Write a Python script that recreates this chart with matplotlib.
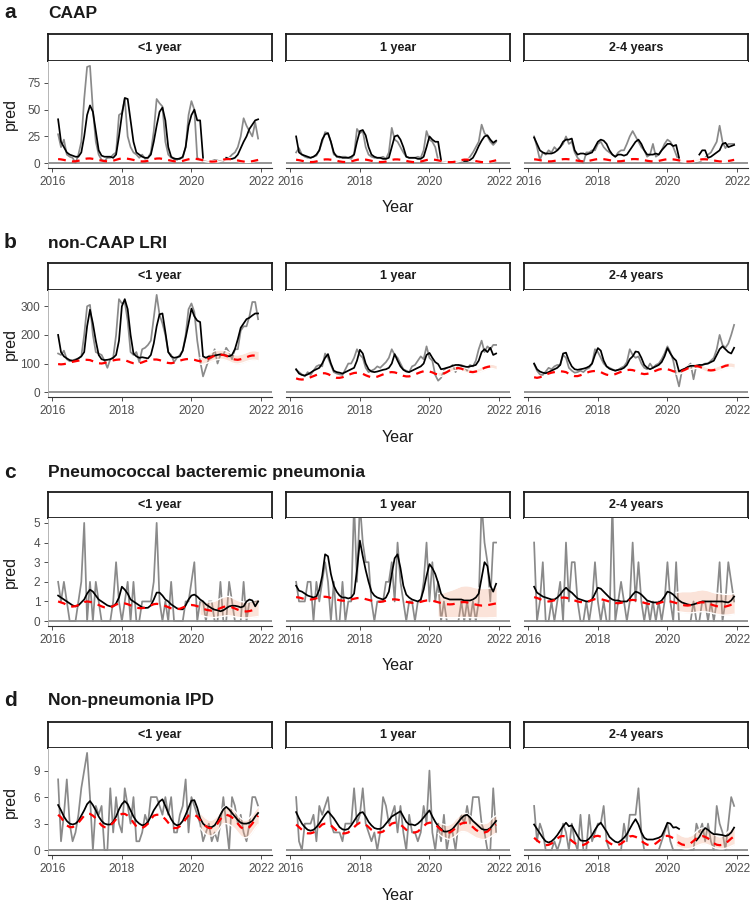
import numpy as np
import pandas as pd
import matplotlib
matplotlib.use("Agg")
import matplotlib.pyplot as plt

plt.rcParams['font.family'] = ['Liberation Sans', 'DejaVu Sans']

nan = np.nan
months = pd.date_range('2016-03-01', '2021-12-01', freq='MS')
t = np.asarray(months.year + (months.month - 1) / 12.0, dtype=float)
RIB0 = 49  # ribbon (counterfactual) starts Apr 2020

row_titles = ['CAAP', 'non-CAAP LRI', 'Pneumococcal bacteremic pneumonia', 'Non-pneumonia IPD']
row_letters = ['a', 'b', 'c', 'd']
age_groups = ['<1 year', '1 year', '2-4 years']
x_ticks = [2016, 2018, 2020, 2022]
y_ticks = [[0, 25, 50, 75], [0, 100, 200, 300], [0, 1, 2, 3, 4, 5], [0, 3, 6, 9]]

# ---------------- a: CAAP ----------------
a1_obs = [27, 15, 22, 8, 6, 5, 0, 8, 20, 60, 90, 91,
          50, 20, 8, 3, 2, 5, 5, 8, 10, 45, 47, 60,
          25, 15, 10, 8, 5, 8, 4, 5, 10, 30, 60, 56,
          53, 20, 8, 5, 5, 3, 5, 5, 15, 45, 58, 50,
          5, 3, 2, 2, 2, 2, 3, 3, 2, 2, 5, 5,
          8, 10, 15, 25, 42, 35, 30, 25, 38, 23]
a1_fit = [41, 20, 15, 10, 8, 7, 6, 6, 10, 25, 45, 54,
          48, 30, 12, 7, 6, 6, 6, 5, 8, 25, 45, 61,
          60, 40, 20, 10, 8, 6, 5, 5, 8, 20, 35, 48,
          52, 40, 15, 6, 4, 4, 4, 6, 15, 35, 45, 50,
          40, 40, 5, nan, nan, nan, nan, nan, nan, nan, 5, 4,
          4, 5, 8, 14, 20, 25, 32, 36, 40, 41]
a1_base = [3.8, 3.5, 3.0, 2.4, 1.9, 1.6, 1.7, 2.2, 3.0, 3.8, 4.3, 4.4,
           4.0, 3.6, 3.0, 2.4, 1.9, 1.7, 1.8, 2.3, 3.1, 3.9, 4.4, 4.5,
           4.1, 3.6, 3.0, 2.3, 1.8, 1.6, 1.7, 2.2, 3.0, 3.8, 4.3, 4.4,
           4.0, 3.5, 2.9, 2.3, 1.8, 1.5, 1.6, 2.1, 2.9, 3.6, 4.1, 4.2,
           3.8, 3.3, 2.7, 2.1, 1.6, 1.4, 1.5, 1.9, 2.6, 3.3, 3.7, 3.8,
           3.4, 3.0, 2.5, 1.9, 1.5, 1.3, 1.4, 1.8, 2.4, 3.0]
a1_lo = [2.3, 1.8, 1.3, 0.9, 0.8, 0.8, 1.1, 1.7, 2.3, 2.6, 2.7, 2.4, 2.0, 1.6, 1.1, 0.8, 0.7, 0.8, 1.1, 1.6, 2.1]
a1_hi = [4.5, 3.8, 3.0, 2.4, 2.1, 2.3, 2.8, 3.6, 4.5, 5.0, 5.1, 4.6, 4.1, 3.5, 2.8, 2.3, 2.0, 2.1, 2.6, 3.3, 4.0]

a2_obs = [10, 14, 8, 6, 5, 5, 6, 7, 12, 20, 29, 28,
          20, 8, 7, 5, 6, 6, 5, 4, 8, 32, 28, 30,
          15, 8, 6, 5, 5, 5, 6, 4, 10, 33, 22, 20,
          15, 10, 6, 5, 5, 5, 6, 5, 12, 30, 22, 20,
          15, 3, 2, 2, 1, 1, 1, 1, 1, 1, 2, 3,
          6, 10, 15, 20, 36, 28, 25, 20, 17, 20]
a2_fit = [25, 10, 8, 7, 6, 5, 6, 8, 12, 22, 27, 28,
          20, 10, 6, 6, 5, 5, 5, 6, 8, 20, 30, 31,
          26, 15, 8, 6, 5, 5, 4, 4, 5, 15, 25, 26,
          22, 15, 6, 5, 5, 5, 4, 4, 6, 15, 25, 22,
          20, 20, 3, nan, nan, nan, nan, nan, nan, nan, 2, 2,
          3, 5, 10, 16, 21, 25, 26, 22, 19, 21]
a2_base = [3.2, 2.8, 2.2, 1.6, 1.2, 1.0, 1.1, 1.6, 2.3, 3.0, 3.5, 3.5,
           3.2, 2.8, 2.2, 1.6, 1.2, 1.0, 1.1, 1.6, 2.4, 3.1, 3.6, 3.6,
           3.3, 2.8, 2.2, 1.6, 1.2, 1.0, 1.1, 1.5, 2.3, 3.0, 3.5, 3.5,
           3.2, 2.7, 2.1, 1.5, 1.1, 0.9, 1.0, 1.5, 2.2, 2.9, 3.4, 3.4,
           3.1, 2.6, 2.0, 1.5, 1.1, 0.9, 1.0, 1.4, 2.1, 2.8, 3.3, 3.3,
           3.0, 2.5, 1.9, 1.4, 1.0, 0.9, 1.0, 1.4, 2.0, 2.7]
a2_lo = [1.8, 1.3, 0.9, 0.6, 0.5, 0.5, 0.8, 1.4, 2.0, 2.4, 2.4, 2.1, 1.7, 1.2, 0.8, 0.5, 0.4, 0.5, 0.8, 1.3, 1.8]
a2_hi = [3.8, 3.0, 2.4, 1.9, 1.6, 1.8, 2.3, 3.1, 4.0, 4.6, 4.6, 4.2, 3.6, 2.9, 2.3, 1.8, 1.6, 1.8, 2.3, 3.0, 3.9]

a3_obs = [25, 15, 3, 10, 8, 12, 10, 15, 12, 15, 18, 25,
          18, 20, 10, 5, 2, 0, 10, 10, 12, 12, 18, 20,
          15, 12, 10, 8, 6, 10, 12, 12, 18, 25, 30, 25,
          20, 15, 12, 6, 8, 18, 6, 8, 12, 18, 22, 20,
          15, 8, 1, 0, 0, 0, 0, 0, 0, 1, 3, 5,
          8, 10, 15, 20, 35, 20, 14, 18, 18, 18]
a3_fit = [24, 18, 12, 10, 9, 9, 9, 10, 12, 15, 20, 22,
          22, 23, 12, 8, 9, 9, 8, 9, 10, 15, 20, 22,
          21, 18, 12, 8, 6, 8, 8, 7, 8, 12, 16, 20,
          22, 18, 12, 8, 8, 8, 9, 8, 12, 15, 18, 18,
          16, 17, 5, nan, nan, nan, nan, nan, nan, 8, 12, 12,
          5, 6, 8, 10, 12, 18, 19, 15, 16, 17]
a3_base = [3.6, 3.3, 2.8, 2.2, 1.8, 1.6, 1.7, 2.1, 2.7, 3.3, 3.7, 3.8,
           3.6, 3.3, 2.8, 2.3, 1.9, 1.7, 1.8, 2.2, 2.8, 3.4, 3.8, 3.9,
           3.7, 3.3, 2.8, 2.3, 1.9, 1.7, 1.8, 2.2, 2.8, 3.4, 3.8, 3.8,
           3.6, 3.2, 2.7, 2.2, 1.8, 1.6, 1.7, 2.1, 2.7, 3.3, 3.7, 3.7,
           3.5, 3.1, 2.6, 2.1, 1.7, 1.5, 1.6, 2.0, 2.6, 3.2, 3.6, 3.6,
           3.4, 3.0, 2.5, 2.0, 1.6, 1.5, 1.6, 2.0, 2.5, 3.1]
a3_lo = [2.2, 1.8, 1.4, 1.1, 0.9, 1.0, 1.3, 1.8, 2.3, 2.6, 2.6, 2.4, 2.1, 1.7, 1.3, 1.0, 0.9, 1.0, 1.3, 1.7, 2.2]
a3_hi = [4.3, 3.7, 3.1, 2.6, 2.3, 2.4, 2.9, 3.6, 4.4, 4.9, 4.9, 4.6, 4.1, 3.5, 2.9, 2.4, 2.2, 2.4, 2.9, 3.5, 4.2]

# ---------------- b: non-CAAP LRI ----------------
b1_obs = [135, 130, 145, 115, 108, 110, 115, 118, 125, 200, 300, 305,
          200, 140, 135, 130, 110, 85, 115, 120, 200, 325, 310, 315,
          250, 140, 130, 140, 105, 150, 155, 165, 180, 260, 340, 270,
          240, 200, 140, 130, 105, 120, 130, 145, 200, 290, 310, 280,
          180, 110, 55, 85, 115, 120, 150, 100, 130, 130, 155, 140,
          115, 150, 150, 215, 230, 230, 265, 315, 315, 255]
b1_fit = [200, 140, 125, 118, 112, 110, 112, 118, 125, 140, 230, 288,
          240, 180, 130, 115, 112, 113, 115, 120, 130, 180, 300, 325,
          290, 200, 135, 125, 120, 122, 120, 118, 130, 170, 230, 272,
          275, 210, 140, 125, 120, 122, 125, 145, 190, 240, 292, 265,
          250, 245, 125, 120, 125, 125, 128, 130, 132, 130, 128, 125,
          130, 150, 185, 225, 240, 255, 260, 268, 275, 275]
b1_base = [98, 97, 98, 100, 103, 106, 108, 110, 112, 113, 113, 112,
           108, 104, 101, 100, 102, 105, 108, 111, 113, 114, 114, 112,
           108, 104, 101, 100, 101, 104, 108, 111, 113, 114, 114, 112,
           108, 104, 102, 101, 103, 106, 110, 113, 115, 116, 115, 113,
           110, 108, 108, 112, 118, 123, 127, 130, 131, 130, 127, 122,
           117, 114, 113, 115, 118, 122, 126, 128, 128, 126]
b1_lo = [98, 97, 100, 104, 108, 111, 114, 115, 114, 111, 107, 102, 99, 98, 100, 103, 107, 110, 112, 112, 110]
b1_hi = [120, 122, 128, 135, 140, 144, 147, 148, 147, 144, 139, 134, 131, 130, 132, 135, 139, 143, 145, 145, 143]

b2_obs = [78, 70, 62, 55, 70, 60, 75, 90, 95, 90, 135, 120,
          95, 70, 65, 62, 60, 80, 100, 100, 120, 150, 130, 120,
          85, 70, 75, 80, 90, 85, 95, 105, 120, 150, 130, 120,
          100, 80, 75, 70, 90, 95, 110, 125, 115, 160, 120, 110,
          60, 40, 50, 75, 85, 85, 95, 70, 95, 95, 90, 75,
          95, 90, 110, 150, 180, 140, 160, 150, 165, 165]
b2_fit = [80, 65, 60, 58, 62, 68, 75, 80, 85, 100, 120, 133,
          100, 75, 70, 68, 65, 70, 75, 80, 85, 110, 148, 135,
          100, 80, 72, 70, 72, 75, 78, 80, 85, 100, 133, 110,
          90, 78, 72, 70, 75, 80, 85, 90, 100, 130, 137, 120,
          105, 98, 80, 82, 85, 88, 92, 95, 95, 92, 90, 88,
          90, 92, 95, 110, 140, 150, 140, 155, 130, 135]
b2_base = [48, 45, 44, 45, 48, 52, 56, 60, 64, 66, 66, 63,
           58, 53, 50, 50, 52, 56, 60, 64, 67, 68, 67, 64,
           59, 55, 52, 52, 54, 58, 62, 66, 69, 70, 69, 66,
           61, 57, 55, 55, 58, 62, 66, 70, 73, 74, 72, 69,
           64, 62, 62, 65, 70, 76, 80, 83, 84, 82, 78, 74,
           71, 70, 72, 76, 80, 85, 88, 90, 89, 86]
b2_lo = [55, 55, 58, 63, 69, 73, 76, 77, 75, 71, 67, 64, 63, 65, 69, 73, 78, 81, 83, 82, 79]
b2_hi = [70, 70, 73, 78, 84, 88, 91, 92, 90, 86, 82, 79, 78, 80, 84, 88, 93, 96, 98, 97, 94]

b3_obs = [98, 75, 62, 60, 72, 85, 80, 90, 95, 95, 130, 120,
          85, 75, 68, 70, 75, 70, 80, 85, 100, 150, 140, 120,
          100, 90, 85, 80, 75, 78, 85, 90, 105, 150, 130, 120,
          125, 100, 85, 80, 100, 85, 95, 100, 115, 135, 160, 140,
          110, 60, 20, 75, 85, 90, 100, 45, 95, 95, 95, 100,
          100, 110, 120, 150, 200, 165, 155, 170, 200, 235]
b3_fit = [100, 80, 72, 68, 66, 70, 75, 80, 85, 95, 135, 138,
          110, 90, 80, 78, 80, 82, 85, 90, 100, 130, 154, 145,
          110, 90, 82, 78, 75, 78, 80, 85, 95, 115, 125, 142,
          140, 120, 95, 85, 80, 85, 90, 95, 105, 125, 154, 135,
          120, 110, 72, 78, 82, 88, 92, 92, 92, 95, 95, 98,
          100, 105, 110, 130, 150, 160, 150, 140, 135, 155]
b3_base = [52, 50, 52, 56, 61, 65, 68, 70, 72, 73, 72, 70,
           64, 59, 56, 56, 59, 63, 67, 71, 73, 74, 73, 70,
           65, 61, 59, 60, 63, 67, 71, 75, 77, 78, 77, 74,
           69, 65, 63, 64, 67, 71, 75, 79, 81, 82, 80, 77,
           73, 71, 71, 74, 78, 83, 87, 90, 91, 89, 85, 80,
           77, 76, 77, 80, 84, 88, 92, 94, 94, 92]
b3_lo = [63, 63, 66, 70, 75, 79, 82, 83, 81, 77, 72, 69, 68, 69, 72, 76, 80, 84, 86, 86, 84]
b3_hi = [80, 80, 83, 87, 92, 96, 99, 100, 98, 94, 89, 86, 85, 86, 89, 93, 97, 101, 103, 103, 101]

# ---------------- c: Pneumococcal bacteremic pneumonia ----------------
c1_obs = [2, 1, 2, 1, 0, 0, 0, 1, 2, 5, 0, 2,
          0, 2, 1, 0, 0, 0, 0, 1, 3, 1, 0, 1,
          2, 0, 2, 0, 0, 1, 1, 1, 1, 2, 5, 1,
          0, 1, 0, 2, 0, 0, 0, 0, 1, 1, 2, 3,
          0, 1, 1, 0, 1, 1, 0, 0, 2, 0, 0, 2,
          1, 0, 0, 0, 2, 0, 1, 1, 1, 1]
c1_fit = [1.3, 1.2, 1.1, 1.0, 0.9, 0.8, 0.75, 0.8, 0.95, 1.1, 1.4, 1.6,
          1.5, 1.3, 1.1, 1.0, 0.9, 0.8, 0.75, 0.75, 0.9, 1.2, 1.75, 1.6,
          1.4, 1.1, 1.0, 0.9, 0.8, 0.7, 0.67, 0.68, 0.8, 1.1, 1.45, 1.45,
          1.3, 1.1, 1.0, 0.85, 0.75, 0.65, 0.6, 0.6, 0.8, 1.1, 1.3, 1.35,
          1.25, 1.1, 1.0, 0.85, 0.75, 0.65, 0.58, 0.55, 0.5, 0.55, 0.65, 0.75,
          0.78, 0.78, 0.75, 0.7, 0.75, 1.0, 1.1, 1.05, 0.75, 1.0]
c1_base = [1.0, 0.95, 0.9, 0.82, 0.76, 0.74, 0.76, 0.82, 0.9, 0.97, 1.0, 0.98,
           0.94, 0.88, 0.82, 0.75, 0.7, 0.68, 0.7, 0.76, 0.84, 0.9, 0.92, 0.9,
           0.86, 0.8, 0.74, 0.68, 0.66, 0.66, 0.68, 0.74, 0.8, 0.86, 0.88, 0.86,
           0.82, 0.77, 0.71, 0.65, 0.62, 0.61, 0.63, 0.69, 0.75, 0.8, 0.82, 0.8,
           0.76, 0.7, 0.64, 0.58, 0.55, 0.53, 0.55, 0.6, 0.66, 0.72, 0.75, 0.74,
           0.7, 0.64, 0.58, 0.53, 0.5, 0.49, 0.51, 0.55, 0.6, 0.62]
c1_lo = [0.3, 0.26, 0.22, 0.2, 0.18, 0.18, 0.2, 0.22, 0.25, 0.27, 0.27, 0.25, 0.22, 0.19, 0.17, 0.16, 0.16, 0.17, 0.19, 0.21, 0.23]
c1_hi = [1.05, 1.0, 0.98, 0.97, 0.98, 1.02, 1.08, 1.15, 1.22, 1.26, 1.25, 1.2, 1.12, 1.05, 1.0, 0.97, 0.96, 0.98, 1.02, 1.08, 1.12]

c2_obs = [2, 1, 1, 1, 2, 2, 0, 2, 1, 2, 3, 2,
          0, 2, 0, 0, 2, 0, 1, 1, 6, 2, 6, 4,
          3, 3, 1, 0, 1, 1, 1, 2, 2, 3, 1, 4,
          2, 1, 0, 1, 1, 0, 1, 1, 2, 4, 1, 3,
          1, 2, 0, 1, 0, 0, 0, 0, 0, 1, 0, 1,
          0, 1, 0, 1, 6, 4, 3, 1, 4, 4]
c2_fit = [1.8, 1.55, 1.5, 1.4, 1.3, 1.25, 1.2, 1.25, 1.6, 2.3, 3.4, 3.3,
          2.4, 1.8, 1.5, 1.3, 1.2, 1.2, 1.15, 1.2, 1.4, 2.6, 4.1, 3.3,
          2.6, 2.0, 1.5, 1.3, 1.2, 1.15, 1.1, 1.2, 1.5, 2.4, 3.2, 3.4,
          2.7, 1.8, 1.35, 1.2, 1.1, 1.05, 1.0, 1.1, 1.6, 2.3, 2.9, 2.7,
          2.4, 1.95, 1.4, 1.2, 1.15, 1.1, 1.1, 1.1, 1.1, 1.1, 1.05, 1.05,
          1.05, 1.1, 1.2, 1.4, 2.2, 3.0, 2.8, 1.8, 1.5, 1.9]
c2_base = [1.22, 1.2, 1.16, 1.12, 1.1, 1.1, 1.12, 1.16, 1.2, 1.23, 1.24, 1.22,
           1.18, 1.14, 1.1, 1.06, 1.04, 1.04, 1.06, 1.1, 1.14, 1.17, 1.18, 1.16,
           1.12, 1.08, 1.04, 1.0, 0.98, 0.98, 1.0, 1.04, 1.08, 1.1, 1.11, 1.09,
           1.06, 1.02, 0.98, 0.95, 0.93, 0.93, 0.95, 0.98, 1.02, 1.05, 1.06, 1.04,
           1.0, 0.96, 0.92, 0.88, 0.86, 0.85, 0.86, 0.89, 0.93, 0.96, 0.97, 0.95,
           0.92, 0.88, 0.84, 0.81, 0.79, 0.79, 0.81, 0.84, 0.87, 0.9]
c2_lo = [0.2, 0.19, 0.18, 0.17, 0.17, 0.17, 0.17, 0.18, 0.18, 0.18, 0.18, 0.18, 0.17, 0.17, 0.16, 0.16, 0.16, 0.16, 0.17, 0.17, 0.18]
c2_hi = [1.4, 1.42, 1.45, 1.5, 1.55, 1.6, 1.66, 1.72, 1.78, 1.8, 1.8, 1.78, 1.74, 1.7, 1.68, 1.66, 1.66, 1.67, 1.68, 1.7, 1.72]

c3_obs = [4, 0, 1, 3, 0, 0, 1, 0, 1, 2, 0, 4,
          1, 3, 3, 1, 0, 0, 1, 0, 1, 3, 1, 0,
          1, 0, 0, 6, 0, 1, 2, 1, 0, 1, 4, 1,
          3, 1, 0, 1, 0, 1, 0, 1, 0, 1, 3, 1,
          0, 3, 0, 0, 0, 0, 0, 1, 0, 0, 1, 1,
          0, 1, 0, 1, 3, 0, 1, 3, 2, 1]
c3_fit = [1.75, 1.45, 1.35, 1.25, 1.2, 1.15, 1.1, 1.1, 1.2, 1.35, 1.55, 1.7,
          1.55, 1.45, 1.3, 1.15, 1.1, 1.05, 1.0, 1.0, 1.1, 1.4, 1.7, 1.65,
          1.5, 1.35, 1.2, 1.1, 1.05, 1.05, 1.0, 1.0, 1.0, 1.15, 1.35, 1.5,
          1.45, 1.35, 1.2, 1.05, 1.0, 0.95, 0.95, 0.95, 1.05, 1.25, 1.5, 1.45,
          1.35, 1.2, 1.05, 0.95, 0.9, 0.85, 0.82, 0.85, 0.9, 0.95, 1.0, 1.0,
          1.0, 1.0, 1.0, 1.0, 1.0, 1.0, 0.97, 0.95, 1.05, 1.25]
c3_base = [1.22, 1.18, 1.12, 1.06, 1.02, 1.0, 1.02, 1.06, 1.12, 1.17, 1.2, 1.19,
           1.15, 1.1, 1.05, 1.0, 0.97, 0.96, 0.98, 1.02, 1.07, 1.12, 1.14, 1.12,
           1.08, 1.04, 0.99, 0.95, 0.92, 0.91, 0.93, 0.97, 1.02, 1.06, 1.08, 1.06,
           1.02, 0.98, 0.93, 0.89, 0.86, 0.85, 0.87, 0.91, 0.96, 1.0, 1.02, 1.0,
           0.96, 0.92, 0.87, 0.83, 0.8, 0.79, 0.81, 0.85, 0.9, 0.94, 0.96, 0.94,
           0.9, 0.85, 0.8, 0.76, 0.73, 0.72, 0.74, 0.78, 0.83, 0.87]
c3_lo = [0.5, 0.47, 0.45, 0.43, 0.42, 0.42, 0.43, 0.45, 0.47, 0.48, 0.47, 0.45, 0.42, 0.38, 0.35, 0.32, 0.3, 0.3, 0.31, 0.33, 0.35]
c3_hi = [1.45, 1.48, 1.5, 1.5, 1.5, 1.5, 1.52, 1.55, 1.58, 1.6, 1.58, 1.55, 1.5, 1.45, 1.42, 1.4, 1.38, 1.36, 1.36, 1.38, 1.4]

# ---------------- d: Non-pneumonia IPD ----------------
d1_obs = [8, 1, 4, 8, 3, 1, 2, 4, 7, 9, 11, 6,
          0, 5, 4, 5, 0, 0, 7, 2, 6, 3, 2, 7,
          5, 3, 6, 1, 1, 2, 4, 3, 6, 6, 6, 5,
          4, 6, 4, 6, 2, 2, 4, 5, 8, 2, 6, 5,
          4, 3, 1, 2, 3, 1, 2, 1, 3, 6, 3, 0,
          6, 5, 3, 4, 2, 1, 3, 6, 6, 5]
d1_fit = [5.1, 4.5, 3.8, 3.3, 3.0, 2.9, 3.0, 3.3, 3.9, 4.5, 5.2, 5.55,
          5.1, 4.5, 3.8, 3.3, 3.0, 2.9, 2.9, 3.2, 3.8, 4.6, 5.2, 5.55,
          5.2, 4.5, 3.8, 3.3, 3.0, 2.8, 2.9, 3.2, 3.8, 4.5, 5.0, 5.5,
          5.75, 5.0, 4.2, 3.5, 3.0, 2.8, 2.9, 3.3, 4.0, 4.8, 5.6, 5.65,
          4.8, 3.6, 3.0, 2.7, 2.6, 2.6, 2.8, 3.3, 4.0, 4.6, 4.9, 4.6,
          4.2, 3.8, 3.4, 3.1, 3.0, 3.0, 3.1, 3.3, 3.8, 4.2]
d1_base = [4.0, 3.7, 3.2, 2.8, 2.6, 2.6, 2.8, 3.1, 3.5, 3.9, 4.1, 4.1,
           3.9, 3.6, 3.2, 2.8, 2.6, 2.6, 2.8, 3.1, 3.5, 3.9, 4.1, 4.1,
           3.9, 3.6, 3.1, 2.7, 2.5, 2.5, 2.7, 3.0, 3.5, 3.9, 4.0, 4.0,
           3.8, 3.5, 3.1, 2.7, 2.5, 2.5, 2.7, 3.0, 3.5, 3.9, 4.0, 4.0,
           3.8, 3.4, 3.0, 2.7, 2.5, 2.5, 2.7, 3.0, 3.5, 3.9, 4.0, 3.9,
           3.7, 3.4, 3.0, 2.6, 2.4, 2.4, 2.6, 3.0, 3.5, 3.9]
d1_lo = [2.5, 2.1, 1.8, 1.6, 1.6, 1.8, 2.1, 2.6, 3.0, 3.0, 2.9, 2.7, 2.4, 2.0, 1.6, 1.4, 1.4, 1.6, 2.0, 2.5, 2.9]
d1_hi = [4.3, 3.9, 3.6, 3.4, 3.4, 3.6, 3.9, 4.4, 4.8, 5.0, 4.9, 4.7, 4.4, 4.0, 3.6, 3.4, 3.4, 3.6, 4.0, 4.5, 4.9]

d2_obs = [6, 1, 0, 3, 3, 3, 4, 1, 5, 4, 5, 6,
          3, 2, 2, 2, 1, 3, 3, 3, 7, 3, 4, 7,
          3, 2, 1, 2, 0, 2, 6, 5, 3, 4, 5, 2,
          5, 2, 0, 4, 2, 2, 1, 2, 5, 3, 9, 2,
          0, 3, 1, 4, 0, 2, 2, 0, 3, 4, 3, 5,
          3, 6, 6, 6, 3, 2, 0, 0, 7, 2]
d2_fit = [4.3, 3.6, 3.0, 2.6, 2.3, 2.2, 2.3, 2.6, 3.0, 3.5, 4.0, 4.4,
          4.0, 3.6, 3.1, 2.6, 2.35, 2.3, 2.4, 2.8, 3.3, 3.8, 4.2, 4.3,
          3.8, 3.2, 2.8, 2.5, 2.4, 2.4, 2.6, 3.0, 3.4, 3.8, 4.0, 4.2,
          4.4, 3.8, 3.2, 2.9, 2.9, 2.8, 3.0, 3.3, 3.7, 4.1, 4.5, 3.8,
          3.2, 2.7, 2.4, 2.1, 2.1, 2.2, 2.4, 2.8, 3.2, 3.6, 3.9, 4.0,
          3.7, 3.3, 3.0, 2.7, 2.4, 2.3, 2.3, 2.5, 2.9, 3.3]
d2_base = [2.9, 2.6, 2.3, 2.0, 1.9, 1.9, 2.0, 2.3, 2.6, 2.9, 3.0, 3.0,
           2.8, 2.5, 2.2, 2.0, 1.9, 1.9, 2.0, 2.3, 2.6, 2.9, 3.1, 3.1,
           2.9, 2.6, 2.3, 2.1, 2.0, 2.0, 2.1, 2.4, 2.7, 3.0, 3.1, 3.1,
           2.9, 2.6, 2.3, 2.1, 2.0, 2.0, 2.1, 2.4, 2.7, 3.0, 3.1, 3.1,
           2.9, 2.6, 2.3, 2.1, 2.0, 2.0, 2.2, 2.5, 2.8, 3.0, 3.1, 3.1,
           2.9, 2.6, 2.3, 2.1, 2.0, 2.0, 2.1, 2.4, 2.7, 2.9]
d2_lo = [1.9, 1.6, 1.4, 1.3, 1.2, 1.4, 1.6, 1.9, 2.1, 2.1, 2.0, 1.8, 1.6, 1.4, 1.3, 1.2, 1.2, 1.3, 1.5, 1.7, 1.9]
d2_hi = [3.3, 3.0, 2.9, 2.8, 2.9, 3.1, 3.5, 3.8, 4.1, 4.2, 4.1, 3.9, 3.6, 3.3, 3.1, 3.0, 3.0, 3.1, 3.4, 3.7, 3.9]

d3_obs = [5, 1, 3, 2, 0, 0, 0, 1, 0, 1, 3, 2,
          0, 3, 1, 0, 4, 0, 0, 4, 1, 2, 3, 3,
          5, 1, 0, 0, 0, 0, 0, 3, 1, 4, 4, 4,
          7, 2, 0, 0, 0, 0, 0, 0, 1, 2, 3, 1,
          0, 0, 0, 0, 0, 0, 0, 0, 3, 2, 3, 1,
          3, 1, 0, 5, 3, 2, 0, 3, 6, 5]
d3_fit = [2.9, 2.4, 1.9, 1.4, 1.0, 0.86, 1.0, 1.3, 1.7, 2.2, 2.7, 3.1,
          2.7, 2.8, 2.2, 1.6, 1.1, 1.05, 1.05, 1.3, 1.7, 2.3, 2.8, 3.1,
          2.6, 2.1, 1.5, 1.2, 0.95, 0.86, 1.1, 1.4, 1.8, 2.4, 3.0, 3.5,
          2.9, 2.0, 1.4, 1.2, 1.2, 1.2, 1.3, 1.4, 1.6, 2.3, 3.1, 3.0,
          2.55, 2.6, 2.4, nan, nan, nan, nan, nan, 1.1, 1.5, 2.1, 2.5,
          2.3, 2.0, 1.8, 1.8, 1.75, 1.7, 1.6, 1.7, 2.0, 2.55]
d3_base = [1.4, 1.1, 0.85, 0.65, 0.56, 0.6, 0.75, 1.0, 1.3, 1.55, 1.6, 1.5,
           1.35, 1.05, 0.8, 0.62, 0.55, 0.58, 0.74, 1.0, 1.32, 1.57, 1.62, 1.52,
           1.36, 1.06, 0.8, 0.62, 0.55, 0.58, 0.73, 0.98, 1.3, 1.55, 1.6, 1.5,
           1.34, 1.04, 0.8, 0.62, 0.56, 0.6, 0.76, 1.02, 1.33, 1.58, 1.62, 1.52,
           1.36, 1.06, 0.82, 0.64, 0.58, 0.62, 0.78, 1.04, 1.34, 1.58, 1.6, 1.5,
           1.33, 1.03, 0.78, 0.61, 0.56, 0.6, 0.76, 1.02, 1.32, 1.56]
d3_lo = [0.4, 0.3, 0.2, 0.15, 0.15, 0.2, 0.3, 0.45, 0.6, 0.7, 0.7, 0.6, 0.45, 0.3, 0.2, 0.15, 0.15, 0.2, 0.3, 0.45, 0.6]
d3_hi = [2.0, 1.8, 1.6, 1.5, 1.5, 1.6, 1.8, 2.1, 2.4, 2.5, 2.5, 2.3, 2.0, 1.8, 1.6, 1.5, 1.6, 1.8, 2.1, 2.4, 2.5]

panels = [
    [(a1_obs, a1_fit, a1_base, a1_lo, a1_hi), (a2_obs, a2_fit, a2_base, a2_lo, a2_hi), (a3_obs, a3_fit, a3_base, a3_lo, a3_hi)],
    [(b1_obs, b1_fit, b1_base, b1_lo, b1_hi), (b2_obs, b2_fit, b2_base, b2_lo, b2_hi), (b3_obs, b3_fit, b3_base, b3_lo, b3_hi)],
    [(c1_obs, c1_fit, c1_base, c1_lo, c1_hi), (c2_obs, c2_fit, c2_base, c2_lo, c2_hi), (c3_obs, c3_fit, c3_base, c3_lo, c3_hi)],
    [(d1_obs, d1_fit, d1_base, d1_lo, d1_hi), (d2_obs, d2_fit, d2_base, d2_lo, d2_hi), (d3_obs, d3_fit, d3_base, d3_lo, d3_hi)],
]

# ---------------- layout (pixel geometry) ----------------
W, H = 750, 907
fig = plt.figure(figsize=(W / 100, H / 100), dpi=100)
fig.patch.set_facecolor('white')

row_geom = [(34, 61, 168), (263, 290, 397), (492, 518, 626), (722, 748, 855)]  # strip top, plot top, plot bottom
col_x = [48, 286, 524]
col_w = 224
ylims = [(-4.55, 95.55), (-17, 357), (-0.25, 5.25), (-0.55, 11.55)]
xlim = (2015.876, 2022.316)
letter_y = [13, 242, 472, 700]
year_y = [207, 437, 666, 896]

GRAY = '#8a8a8a'
TICKC = '#4D4D4D'

def fx(px):
    return px / W

def fy(py):
    return 1 - py / H

for r in range(4):
    st, pt, pb = row_geom[r]
    fig.text(fx(4), fy(letter_y[r]), row_letters[r], fontsize=15, fontweight='bold', va='center', ha='left', color='#1a1a1a')
    fig.text(fx(48), fy(letter_y[r] + 1), row_titles[r], fontsize=12.5, fontweight='bold', va='center', ha='left', color='#1a1a1a')
    fig.text(fx(398), fy(year_y[r]), 'Year', fontsize=11.5, va='center', ha='center', color='#1a1a1a')
    fig.text(fx(10), fy((pt + pb) / 2), 'pred', fontsize=11.5, va='center', ha='center', rotation=90, color='#1a1a1a')
    for c in range(3):
        obs, fit, base, lo, hi = [np.asarray(v, dtype=float) for v in panels[r][c]]
        # strip
        sax = fig.add_axes([fx(col_x[c]), fy(pt), col_w / W, (pt - st) / H])
        sax.set_xticks([]); sax.set_yticks([])
        sax.set_facecolor('white')
        for sp in sax.spines.values():
            sp.set_color('#1a1a1a'); sp.set_linewidth(1.3)
        sax.text(0.5, 0.5, age_groups[c], transform=sax.transAxes, ha='center', va='center',
                 fontsize=9, fontweight='bold', color='#1a1a1a')
        # panel
        ax = fig.add_axes([fx(col_x[c]), fy(pb), col_w / W, (pb - pt) / H])
        ax.set_facecolor('white')
        ax.set_xlim(*xlim)
        ax.set_ylim(*ylims[r])
        ax.axhline(0, color='#8c8c8c', lw=1.3, zorder=1)
        ax.plot(t, obs, color=GRAY, lw=1.25, zorder=2, solid_joinstyle='round')
        ax.fill_between(t[RIB0:], lo, hi, color='#F4A582', alpha=0.3, lw=0, zorder=3)
        ax.plot(t[RIB0:], lo, color='white', lw=1.0, zorder=3)
        ax.plot(t[RIB0:], hi, color='white', lw=1.0, zorder=3)
        ax.plot(t, fit, color='black', lw=1.25, zorder=4)
        ax.plot(t, base, color='#FF0000', lw=1.6, dashes=(3.5, 2.8), zorder=5)
        for s in ['top', 'right']:
            ax.spines[s].set_visible(False)
        ax.spines['bottom'].set_color('#333333'); ax.spines['bottom'].set_linewidth(0.8)
        ax.set_xticks(x_ticks)
        ax.set_xticklabels([str(v) for v in x_ticks])
        ax.tick_params(axis='x', length=3, width=0.6, color='#333333', labelsize=8.5, labelcolor=TICKC, pad=2.5)
        if c == 0:
            ax.spines['left'].set_color('#aaaaaa'); ax.spines['left'].set_linewidth(0.6)
            ax.set_yticks(y_ticks[r])
            ax.set_yticklabels([str(v) for v in y_ticks[r]])
            ax.tick_params(axis='y', length=3, width=0.6, color='#333333', labelsize=8.5, labelcolor=TICKC, pad=2.5)
        else:
            ax.spines['left'].set_visible(False)
            ax.set_yticks([])

fig.savefig('out.png', dpi=100, facecolor='white')
